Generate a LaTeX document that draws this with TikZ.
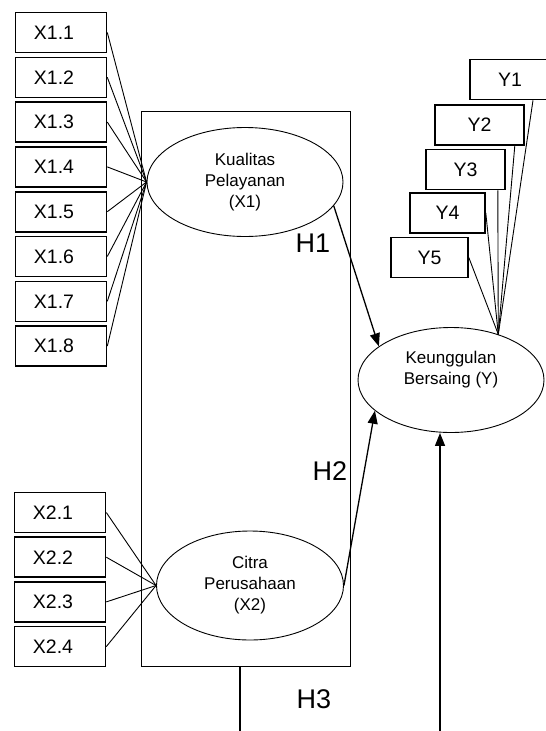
\documentclass[tikz,border=0pt]{standalone}
\usepackage{fontspec}
\setmainfont{Liberation Sans}
\usetikzlibrary{arrows.meta,shapes.geometric}

\begin{document}
\begin{tikzpicture}[%
    x=1pt, y=-1pt,
    indicator/.style={
        draw,
        line width=1.6pt,
        inner sep=0pt,
        minimum width=91pt,
        minimum height=40pt,
        font=\fontsize{19.5}{22}\selectfont
        },
    xindicator/.style={
        indicator,
        execute at begin node=\hspace*{-14pt}
        },
    construct/.style={
        draw,
        ellipse,
        line width=0.9pt,
        inner sep=0pt,
        align=center,
        font=\fontsize{17}{21}\selectfont
        },
    loading/.style={line width=0.9pt},
    hypo/.style={
        line width=1.3pt,
        -{Triangle[length=13pt,width=10pt]}
        },
    hlabel/.style={font=\fontsize{27}{30}\selectfont}
]

\useasboundingbox (0,0) rectangle (546,731);

\node[draw, line width=1.2pt, inner sep=0pt, minimum width=209pt, minimum height=555pt] (frame) at (246,389) {};

\node[construct, minimum width=196pt, minimum height=109pt] (kualitas) at (245,182) {Kualitas\\Pelayanan\\(X1)};
\node[construct, minimum width=187pt, minimum height=109pt] (citra) at (250,585.5) {Citra\\Perusahaan\\(X2)};
\node[construct, minimum width=186pt, minimum height=105pt,
    label={[align=center, font=\fontsize{17}{21}\selectfont, yshift=10pt]center:{Keunggulan\\Bersaing (Y)}}] (bersaing) at (451,380) {};

\foreach \i in {1,...,8}
    \node[xindicator] (x1-\i) at (61,{32.5+44.8*(\i-1)}) {X1.\i};
\foreach \i in {1,...,4}
    \node[xindicator] (x2-\i) at (60,{512.5+44.7*(\i-1)}) {X2.\i};
\foreach \i/\px/\py/\w in {1/510/79.5/80, 2/479.5/125/89, 3/465.5/169.5/79, 4/447.5/213/75, 5/429.5/257.5/77}
    \node[indicator, minimum width=\w pt] (y-\i) at (\px,\py) {Y\i};

\foreach \i in {1,...,8}
    \draw[loading] (x1-\i.east) -- (kualitas.west);
\foreach \i in {1,...,4}
    \draw[loading] (x2-\i.east) -- (citra.west);

\draw[loading] ([xshift=23pt]y-1.south) -- (bersaing.44);
\draw[loading] ([xshift=-10pt]y-2.south east) -- (bersaing.44);
\draw[loading] ([xshift=-8pt]y-3.south east) -- (bersaing.44);
\draw[loading] (y-4.east) -- (bersaing.44);
\draw[loading] (y-5.east) -- (bersaing.44);

\draw[hypo] (kualitas.-15) -- (bersaing.155);
\draw[hypo] (citra.east) -- (bersaing.202);

\coordinate (h3foot) at (240,731);
\coordinate (yfoot) at (440,731);
\draw[line width=1.3pt] (frame.south -| h3foot) -- (h3foot);
\draw[hypo] (yfoot) -- (yfoot |- bersaing.south);

\node[hlabel] (h1) at (313,243) {H1};
\node[hlabel] (h2) at (330,471) {H2};
\node[hlabel] (h3) at (314,699) {H3};

\end{tikzpicture}
\end{document}
